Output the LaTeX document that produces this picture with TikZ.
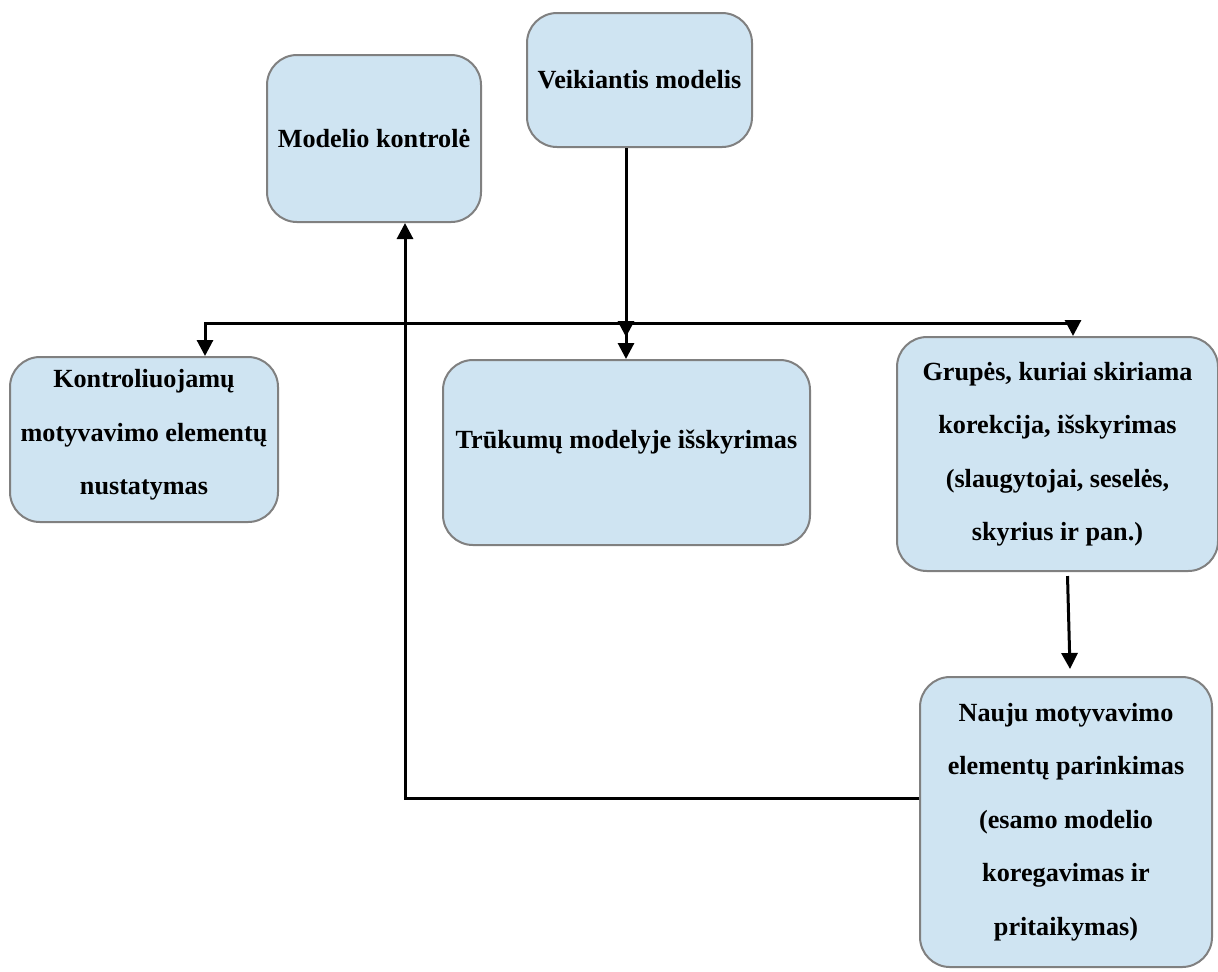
\documentclass[tikz,border=0pt]{standalone}
\usepackage{fontspec}
\setmainfont{Liberation Serif}
\usepackage{tikz}
\usetikzlibrary{arrows.meta, positioning, calc}
\definecolor{boxfill}{RGB}{207,228,242}
\definecolor{boxline}{RGB}{128,128,128}

\begin{document}
\begin{tikzpicture}[
      x=0.5pt, y=-0.5pt,
      >={Triangle[length=8pt, width=8pt]},
      box/.style={draw=boxline, line width=1pt, rounded corners=15pt, fill=boxfill,
                  align=center, inner sep=0pt,
                  font=\fontsize{13.1}{26.75}\selectfont\bfseries},
      txt/.style={align=center, inner sep=0pt,
                  font=\fontsize{13.1}{26.75}\selectfont\bfseries},
      arr/.style={->, line width=1.5pt, black}
    ]
    \useasboundingbox (0,0) rectangle (1218,971);

    % --- Top row ---
    \node[box, minimum width=107pt, minimum height=83.5pt] (kontrole) at (374,138.5) {Modelio kontrolė};
    \node[box, minimum width=112.5pt, minimum height=67pt] (veik) at (639.5,80) {Veikiantis modelis};

    % --- Middle row ---
    \node[box, minimum width=134pt, minimum height=82.5pt] (kontr) at (144,439.5) {};
    \node[txt] (kontrtxt) at (144,435)
      {Kontroliuojamų\\motyvavimo elementų\\nustatymas};
    \node[box, minimum width=183.5pt, minimum height=92.5pt] (trukumai) at (626.5,452.5) {};
    \node[txt] (trukumaitxt) at (626.5,442) {Trūkumų modelyje išskyrimas};
    \node[box, minimum width=160.5pt, minimum height=117pt] (grupes) at (1057.5,454)
      {Grupės, kuriai skiriama\\korekcija, išskyrimas\\(slaugytojai, seselės,\\skyrius ir pan.)};

    % --- Bottom ---
    \node[box, minimum width=146pt, minimum height=145pt] (nauju) at (1066,822)
      {Nauju motyvavimo\\elementų parinkimas\\(esamo modelio\\koregavimas ir\\pritaikymas)};

    % --- Split line ---
    \coordinate (hl) at (205,323);
    \coordinate (hr) at (1073,323);
    \coordinate (hm) at (626,323);
    \draw[<->, line width=1.5pt] (kontr.north -| hl) -- (hl) -- (hr) -- (grupes.north -| hr);

    % --- Veikiantis modelis down ---
    \draw[arr] (veik.south -| hm) -- ($(hm)+(0,14)$);
    \draw[arr] (hm) -- (trukumai.north -| hm);

    % --- Grupes to Nauju ---
    \draw[arr] ($(grupes.south)+(10,4)$) -- ($(nauju.north)+(4,-7)$);

    % --- Feedback to control ---
    \coordinate (ret) at (405,798);
    \draw[arr] (nauju.west |- ret) -- (ret) -- (kontrole.south -| ret);

  \end{tikzpicture}
\end{document}
